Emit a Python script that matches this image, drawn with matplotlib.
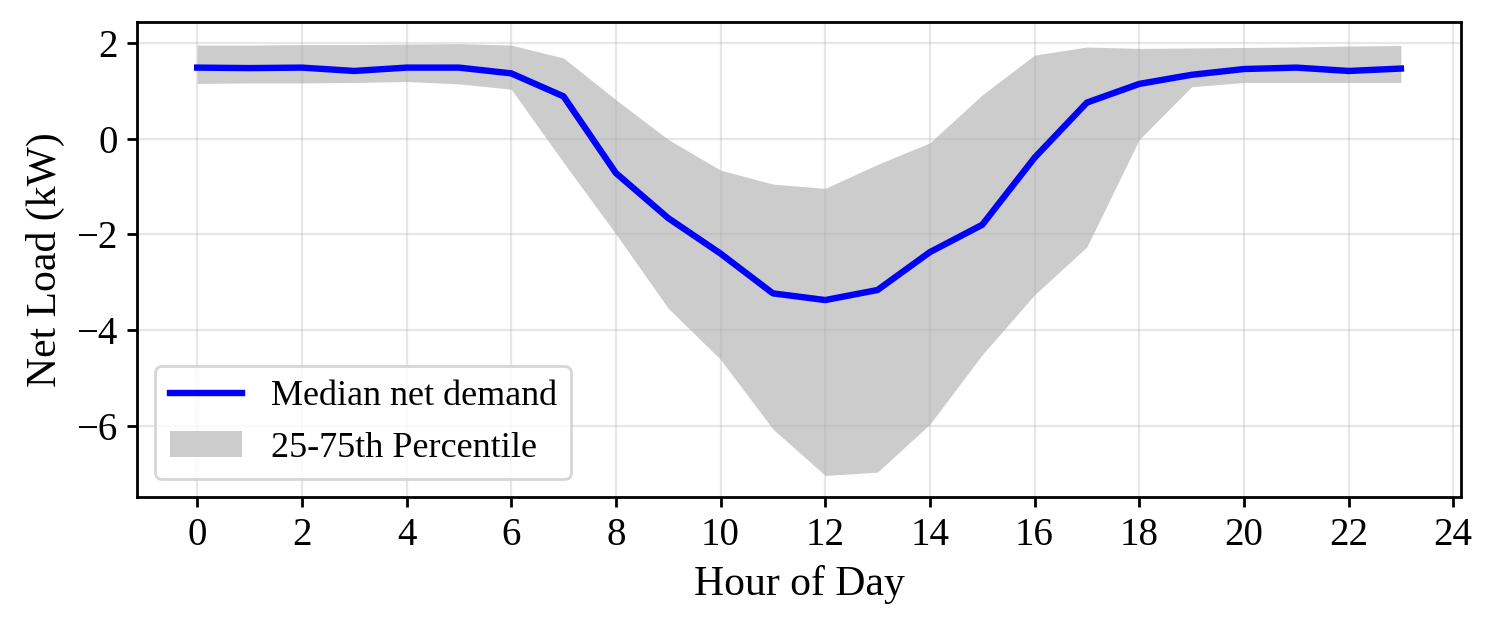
import matplotlib
matplotlib.use("Agg")
from matplotlib import pyplot as plt

hours = list(range(24))
median = [1.48, 1.47, 1.48, 1.41, 1.48, 1.48, 1.36, 0.88, -0.72, -1.66, -2.40, -3.23,
          -3.37, -3.16, -2.37, -1.80, -0.40, 0.75, 1.14, 1.33, 1.45, 1.48, 1.41, 1.46]
p75 = [1.95, 1.95, 1.96, 1.96, 1.97, 1.98, 1.95, 1.68, 0.81, -0.02, -0.66, -0.95,
       -1.04, -0.54, -0.09, 0.91, 1.74, 1.91, 1.88, 1.89, 1.90, 1.91, 1.93, 1.94]
p25 = [1.15, 1.16, 1.16, 1.17, 1.19, 1.14, 1.03, -0.50, -1.99, -3.54, -4.61, -6.06,
       -7.03, -6.96, -5.96, -4.51, -3.26, -2.26, -0.02, 1.08, 1.17, 1.17, 1.17, 1.17]

plt.rcParams["font.family"] = ["Liberation Serif", "DejaVu Serif"]
plt.rcParams["axes.linewidth"] = 1.0


def main():
    figure, axes = plt.subplots(figsize=(7.495, 3.15), dpi=200)
    axes.plot(hours, median, color="blue", linewidth=2.3, label="Median net demand")
    axes.fill_between(hours, p25, p75, color="#cccccc", linewidth=0, label="25-75th Percentile")
    axes.set_xticks(range(0, 25, 2))
    axes.set_xlabel("Hour of Day", fontsize=15)
    axes.set_ylabel("Net Load (kW)", fontsize=15)
    axes.tick_params(labelsize=14, width=1.0)
    axes.grid(alpha=0.3)
    axes.legend(loc="lower left", fontsize=13)
    figure.subplots_adjust(left=0.0914, right=0.9747, top=0.965, bottom=0.211)
    figure.savefig("out.png")


if __name__ == "__main__":
    main()
